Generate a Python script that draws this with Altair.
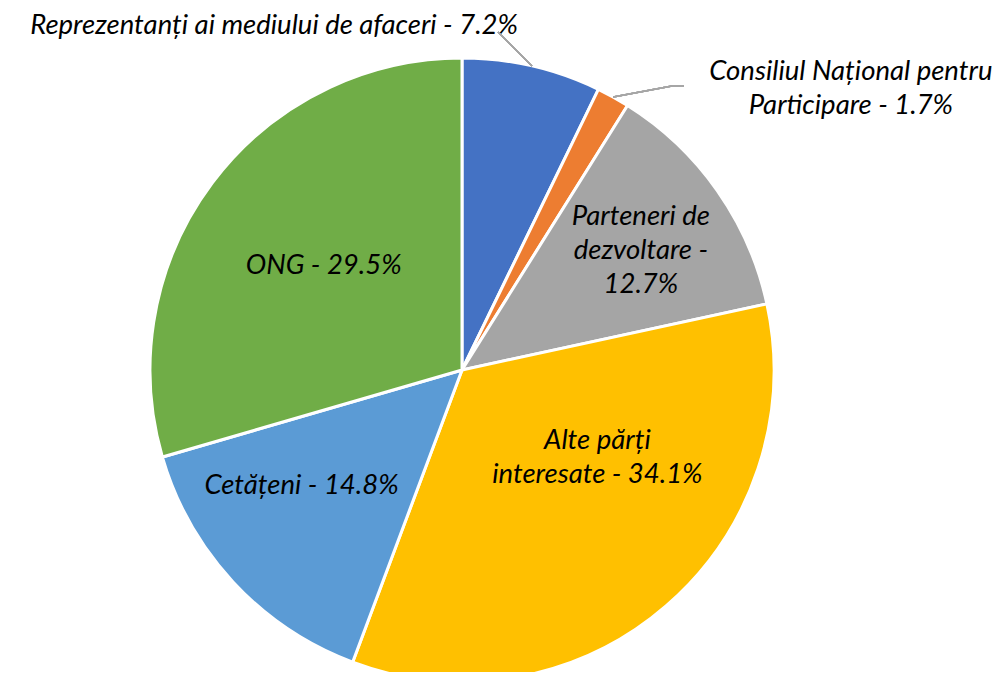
import math
import altair as alt
import pandas as pd

# ---- data ----
categories = [
    "Reprezentanți ai mediului de afaceri",
    "Consiliul Național pentru Participare",
    "Parteneri de dezvoltare",
    "Alte părți interesate",
    "Cetățeni",
    "ONG",
]
shares = [7.2, 1.7, 12.7, 34.1, 14.8, 29.5]
label_texts = [
    "Reprezentanți ai mediului de afaceri - 7.2%",
    "Consiliul Național pentru\nParticipare - 1.7%",
    "Parteneri de\ndezvoltare -\n12.7%",
    "Alte părți\ninteresate - 34.1%",
    "Cetățeni - 14.8%",
    "ONG - 29.5%",
]
colors = ["#4472C4", "#ED7D31", "#A5A5A5", "#FFC000", "#5B9BD5", "#70AD47"]

# ---- layout / style ----
CX, CY = 454, 362          # pie centre inside the plot area
R = 312                    # outer radius
FONT = "Lato"
FS = 27.5
LH = 34

# label placement: (radius, dx, dy, align) -- dy refers to the centre of the text block
label_style = [
    (330, -18, -22, "right"),
    (330, 229, 8, "center"),
    (215, 3, 5, "center"),
    (155, 34, -29, "center"),
    (197, -16, -18, "center"),
    (173, 0, 0, "center"),
]

df = pd.DataFrame({
    "idx": list(range(len(categories))),
    "category": categories,
    "share": shares,
    "label": label_texts,
})

base = alt.Chart(df).encode(
    theta=alt.Theta("share:Q", stack=True),
    order=alt.Order("idx:Q", sort="ascending"),
)

pie = base.mark_arc(outerRadius=R, stroke="white", strokeWidth=3).encode(
    color=alt.Color("category:N", scale=alt.Scale(domain=categories, range=colors), legend=None),
    x=alt.value(CX),
    y=alt.value(CY),
)

layers = [pie]
for i, (rad, dx, dy, align) in enumerate(label_style):
    nlines = label_texts[i].count("\n") + 1
    dy_first = dy - (nlines - 1) * LH / 2
    layers.append(
        base.transform_calculate(t=f"datum.idx == {i} ? datum.label : ''")
        .mark_text(
            radius=rad, dx=dx, dy=dy_first, align=align, baseline="middle",
            font=FONT, fontStyle="italic", fontSize=FS, lineHeight=LH,
            lineBreak="\n", color="#000000",
        )
        .encode(text="t:N", x=alt.value(CX), y=alt.value(CY))
    )

# leader lines: start at the slice's outer edge, at its mid angle
total = sum(shares)
cum = 0.0
mids = []
for s in shares:
    mids.append((cum + s / 2) / total * 2 * math.pi)
    cum += s


def edge(i):
    a = mids[i]
    return CX + R * math.sin(a), CY - R * math.cos(a)


sx0, sy0 = edge(0)
sx1, sy1 = edge(1)
leader_style = dict(color="#A6A6A6", strokeWidth=1.5)
lead0 = alt.Chart(df).mark_rule(**leader_style).encode(
    x=alt.value(sx0), y=alt.value(sy0), x2=alt.value(490), y2=alt.value(24)
)
lead1a = alt.Chart(df).mark_rule(**leader_style).encode(
    x=alt.value(sx1), y=alt.value(sy1), x2=alt.value(664), y2=alt.value(78)
)
lead1b = alt.Chart(df).mark_rule(**leader_style).encode(
    x=alt.value(664), y=alt.value(78), x2=alt.value(676), y2=alt.value(78)
)
layers += [lead0, lead1a, lead1b]

chart = alt.layer(*layers).properties(
    width=988, height=664, autosize="none", padding=0
).configure_view(stroke=None)

chart.save("out.html", embed_options={"renderer": "svg", "actions": False})
